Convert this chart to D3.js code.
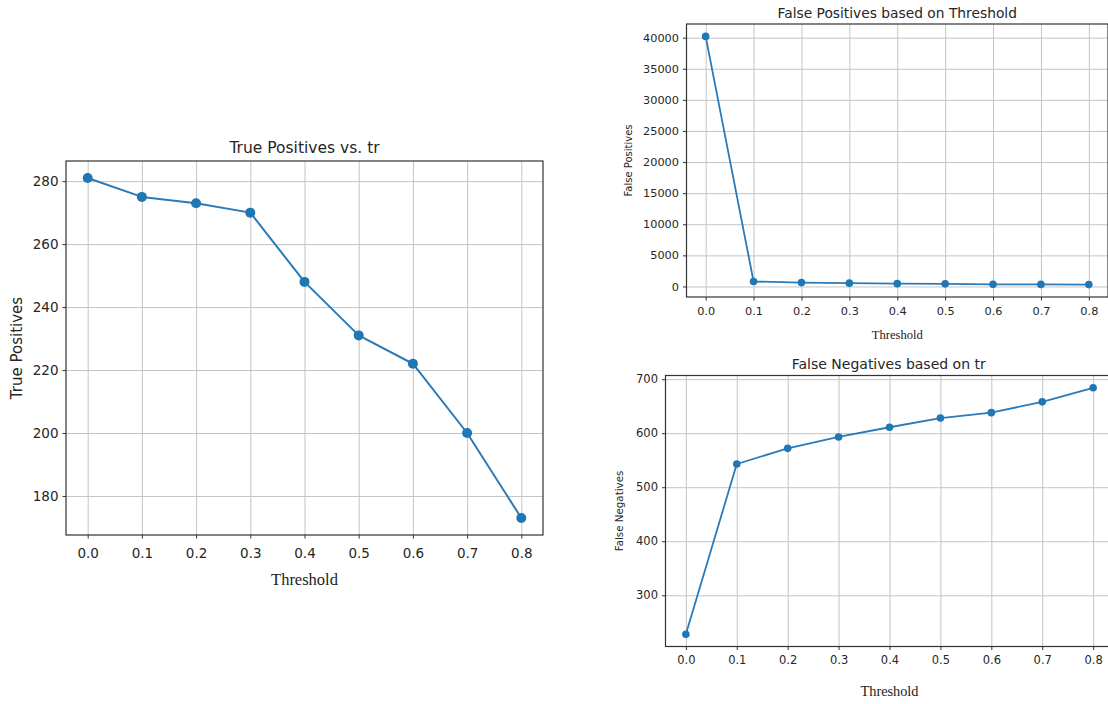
<!DOCTYPE html>
<html>
<head>
<meta charset="utf-8">
<script src="https://cdn.jsdelivr.net/npm/d3@7"></script>
<style>
  html, body { margin: 0; padding: 0; background: #fff; }
  svg { display: block; }
  .tick text { fill: #262626; font-family: "DejaVu Sans", sans-serif; }
  .tick line { stroke: #333; }
  .grid line { stroke: #c4c4c4; stroke-width: 1; }
  .grid path { display: none; }
</style>
</head>
<body>
<script>
//------------------------------------------------------------------------------
// Data
//------------------------------------------------------------------------------

var thresholds = [0.0, 0.1, 0.2, 0.3, 0.4, 0.5, 0.6, 0.7, 0.8];
var xTickLabels = ["0.0", "0.1", "0.2", "0.3", "0.4", "0.5", "0.6", "0.7", "0.8"];

var truePositives = [281, 275, 273, 270, 248, 231, 222, 200, 173];
var tpTicks = [180, 200, 220, 240, 260, 280];

var falsePositives = [40200, 800, 620, 530, 450, 420, 340, 330, 300];
var fpTicks = [0, 5000, 10000, 15000, 20000, 25000, 30000, 35000, 40000];

var falseNegatives = [228, 543, 572, 593, 611, 628, 638, 658, 684];
var fnTicks = [300, 400, 500, 600, 700];

//------------------------------------------------------------------------------
// Panels
//------------------------------------------------------------------------------

var panels = [
  {
    values: truePositives, yTicks: tpTicks,
    title: "True Positives vs. tr", yLabel: "True Positives",
    box: {left: 66, right: 543, top: 161, bottom: 535},
    tickFont: 13.5, titleFont: 15.5, yLabelFont: 15, xLabelFont: 16.5,
    titleY: 153, yLabelX: 22, xLabelY: 585, tickLabelY: 20,
    radius: 5, lineWidth: 2
  },
  {
    values: falsePositives, yTicks: fpTicks,
    title: "False Positives based on Threshold", yLabel: "False Positives",
    box: {left: 686.5, right: 1108, top: 24, bottom: 297},
    tickFont: 11.3, titleFont: 13.8, yLabelFont: 10, xLabelFont: 12.6,
    titleY: 18, yLabelX: 632, xLabelY: 339, tickLabelY: 16,
    radius: 3.8, lineWidth: 1.8
  },
  {
    values: falseNegatives, yTicks: fnTicks,
    title: "False Negatives based on tr", yLabel: "False Negatives",
    box: {left: 665.5, right: 1113.5, top: 375.5, bottom: 646.5},
    tickFont: 11.5, titleFont: 14, yLabelFont: 10.3, xLabelFont: 14.3,
    titleY: 369, yLabelX: 623, xLabelY: 696, tickLabelY: 16,
    radius: 3.8, lineWidth: 1.8
  }
];

var svg = d3.select("body").append("svg")
  .attr("width", 1108)
  .attr("height", 704);

panels.forEach(drawPanel);

//------------------------------------------------------------------------------
// Drawing
//------------------------------------------------------------------------------

// matplotlib style autoscale: data extent plus a 5% margin on each side
function padded(extent) {
  var m = (extent[1] - extent[0]) * 0.05;
  return [extent[0] - m, extent[1] + m];
}

function drawPanel(p) {
  var b = p.box;
  var w = b.right - b.left, h = b.bottom - b.top;

  var x = d3.scaleLinear().domain(padded(d3.extent(thresholds))).range([b.left, b.right]);
  var y = d3.scaleLinear().domain(padded(d3.extent(p.values))).range([b.bottom, b.top]);

  var g = svg.append("g");

  // Grid
  g.append("g")
    .attr("class", "grid")
    .attr("transform", "translate(0," + b.bottom + ")")
    .call(d3.axisBottom(x).tickValues(thresholds).tickSize(-h).tickFormat(""));
  g.append("g")
    .attr("class", "grid")
    .attr("transform", "translate(" + b.left + ",0)")
    .call(d3.axisLeft(y).tickValues(p.yTicks).tickSize(-w).tickFormat(""));

  // Axes
  var xAxis = g.append("g")
    .attr("transform", "translate(0," + b.bottom + ")")
    .call(d3.axisBottom(x)
      .tickValues(thresholds)
      .tickSize(3.5)
      .tickPadding(p.tickLabelY - 10)
      .tickFormat(function(d, i) { return xTickLabels[i]; }));
  var yAxis = g.append("g")
    .attr("transform", "translate(" + b.left + ",0)")
    .call(d3.axisLeft(y)
      .tickValues(p.yTicks)
      .tickSize(3.5)
      .tickPadding(4)
      .tickFormat(d3.format("d")));

  [xAxis, yAxis].forEach(function(a) {
    a.select(".domain").remove();
    a.selectAll("text").style("font-size", p.tickFont + "px");
  });

  // Spines
  g.append("rect")
    .attr("x", b.left)
    .attr("y", b.top)
    .attr("width", w)
    .attr("height", h)
    .attr("fill", "none")
    .attr("stroke", "#333")
    .attr("stroke-width", 1.2);

  // Series
  var line = d3.line()
    .x(function(d, i) { return x(thresholds[i]); })
    .y(function(d) { return y(d); });

  g.append("path")
    .datum(p.values)
    .attr("d", line)
    .attr("fill", "none")
    .attr("stroke", "#2a7ab9")
    .attr("stroke-width", p.lineWidth)
    .attr("stroke-linejoin", "round");

  g.selectAll(".pt")
    .data(p.values)
    .enter().append("circle")
    .attr("class", "pt")
    .attr("cx", function(d, i) { return x(thresholds[i]); })
    .attr("cy", function(d) { return y(d); })
    .attr("r", p.radius)
    .attr("fill", "#1f77b4");

  // Labels
  g.append("text")
    .attr("x", (b.left + Math.min(b.right, 1108)) / 2 + (b.right > 1108 ? 2 : 0))
    .attr("y", p.titleY)
    .attr("text-anchor", "middle")
    .style("font-family", "DejaVu Sans, sans-serif")
    .style("font-size", p.titleFont + "px")
    .style("fill", "#262626")
    .text(p.title);

  g.append("text")
    .attr("transform", "translate(" + p.yLabelX + "," + (b.top + h / 2) + ") rotate(-90)")
    .attr("text-anchor", "middle")
    .style("font-family", "DejaVu Sans, sans-serif")
    .style("font-size", p.yLabelFont + "px")
    .style("fill", "#262626")
    .text(p.yLabel);

  g.append("text")
    .attr("x", (x(0) + x(0.8)) / 2)
    .attr("y", p.xLabelY)
    .attr("text-anchor", "middle")
    .style("font-family", "Liberation Serif, serif")
    .style("font-size", p.xLabelFont + "px")
    .style("fill", "#222")
    .text("Threshold");
}
</script>
</body>
</html>
